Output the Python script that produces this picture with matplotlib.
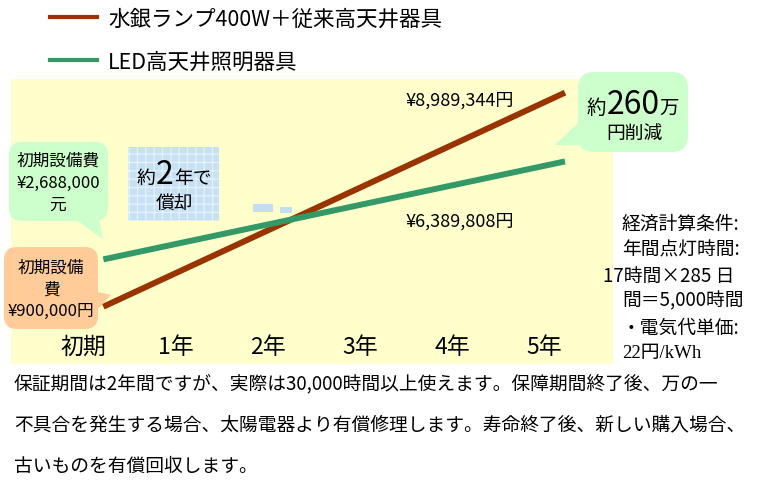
import matplotlib
matplotlib.use("Agg")
import matplotlib.pyplot as plt
from matplotlib.patches import FancyBboxPatch, Polygon, Rectangle
from matplotlib.lines import Line2D
import numpy as np

plt.rcParams['font.family'] = ['Noto Sans CJK JP', 'DejaVu Sans']

# ---- data ----
years = [0, 5]
mercury_cost = [900000, 8989344]      # 水銀ランプ400W＋従来高天井器具
led_cost = [2688000, 6389808]         # LED高天井照明器具
tick_labels = ['初期', '1年', '2年', '3年', '4年', '5年']
series_names = ['水銀ランプ400W＋従来高天井器具', 'LED高天井照明器具']

C_MERC = '#993300'
C_LED = '#339966'
C_BG = '#FFFFCC'
C_GREEN_BOX = '#CCFFCC'
C_ORANGE_BOX = '#FFCC99'
C_BLUE_BOX = '#C6E0F4'

W, H = 765, 481
fig = plt.figure(figsize=(W / 100, H / 100), dpi=100)

# main plotting area (yellow panel)
ax = fig.add_axes([11 / W, 1 - 365 / H, 602 / W, 285 / H])
ax.set_facecolor(C_BG)
for s in ax.spines.values():
    s.set_visible(False)
ax.plot(years, np.array(mercury_cost) / 1e6, color=C_MERC, lw=4.3,
        solid_capstyle='butt', zorder=3)
ax.plot(years, np.array(led_cost) / 1e6, color=C_LED, lw=4.3,
        solid_capstyle='butt', zorder=3)
ax.set_xlim(-1.0, 5.52)
ax.set_ylim(-1.266, 9.505)
ax.set_yticks([])
ax.set_xticks(np.arange(len(tick_labels)) - 0.22)
ax.set_xticklabels(tick_labels, fontsize=16.5)
ax.tick_params(axis='x', length=0, pad=-21)

# legend
handles = [Line2D([], [], color=C_MERC, lw=3), Line2D([], [], color=C_LED, lw=3)]
fig.legend(handles, series_names, loc='upper left',
           bbox_to_anchor=(50 / W, 1 - 9 / H), frameon=False, fontsize=15.5,
           handlelength=2.2, handletextpad=0.5, labelspacing=0.95,
           borderpad=0, borderaxespad=0)

# overlay in pixel coordinates for callouts and notes
ov = fig.add_axes([0, 0, 1, 1], zorder=5)
ov.set_xlim(0, W)
ov.set_ylim(H, 0)
ov.axis('off')
ov.patch.set_alpha(0)


def bubble(x0, y0, x1, y1, color, tail, r=13):
    ov.add_patch(FancyBboxPatch((x0, y0), x1 - x0, y1 - y0,
                                boxstyle=f'round,pad=0,rounding_size={r}',
                                fc=color, ec='none'))
    ov.add_patch(Polygon(tail, closed=True, fc=color, ec='none'))


# initial cost callout (LED)
bubble(9, 143, 108, 222, C_GREEN_BOX, [(72, 218), (97, 212), (103, 240)])
for y, t in zip([161, 183, 205], ['初期設備費', '¥2,688,000', '元']):
    ov.text(58, y, t, fontsize=12, ha='center', va='center')

# initial cost callout (mercury lamp)
bubble(4, 248, 98, 330, C_ORANGE_BOX, [(94, 292), (111, 296), (94, 314)])
for y, t in zip([268, 290, 311], ['初期設備', '費', '¥900,000円']):
    ov.text(51, y, t, fontsize=12, ha='center', va='center')

# savings callout
bubble(578, 73, 688, 153, C_GREEN_BOX, [(582, 120), (555, 146), (582, 146)], r=16)
ov.text(596, 114, '約', fontsize=14, ha='center', va='baseline')
ov.text(633, 114, '260', fontsize=23, ha='center', va='baseline')
ov.text(669, 114, '万', fontsize=14, ha='center', va='baseline')
ov.text(634, 133, '円削減', fontsize=13.5, ha='center', va='center')

# payback box
ov.add_patch(Rectangle((128, 148), 91, 74, fc=C_BLUE_BOX, ec='#E4F0FA',
                       lw=0, hatch='++'))
ov.text(146, 184, '約', fontsize=13.5, ha='center', va='baseline')
ov.text(165, 184, '2', fontsize=23, ha='center', va='baseline')
ov.text(193, 184, '年で', fontsize=13.5, ha='center', va='baseline')
ov.text(174, 203, '償却', fontsize=13.5, ha='center', va='center')
ov.add_patch(Rectangle((253, 205), 20, 8, fc='#C6DCEF', ec='none'))
ov.add_patch(Rectangle((280, 208), 12, 6, fc='#C6DCEF', ec='none'))

# end values
ov.text(460, 101, '¥8,989,344円', fontsize=13, ha='center', va='center')
ov.text(460, 222, '¥6,389,808円', fontsize=13, ha='center', va='center')

# calculation conditions
cond = [(622, 224, '経済計算条件:'), (622, 250, '年間点灯時間:'),
        (603, 276, '17時間×285 日'), (622, 301, '間＝5,000時間'),
        (622, 328, '・電気代単価:')]
for x, y, t in cond:
    ov.text(x, y, t, fontsize=13.5, ha='left', va='center')
ov.text(622, 354, '22円/kWh', fontsize=13.5, ha='left', va='center',
        family=['Liberation Serif', 'Noto Sans CJK JP'])

# warranty note
notes = ['保証期間は2年間ですが、実際は30,000時間以上使えます。保障期間終了後、万の一',
         '不具合を発生する場合、太陽電器より有償修理します。寿命終了後、新しい購入場合、',
         '古いものを有償回収します。']
for y, t in zip([385, 425, 466], notes):
    ov.text(14, y, t, fontsize=13.5, ha='left', va='center')

fig.savefig('out.png', dpi=100)
